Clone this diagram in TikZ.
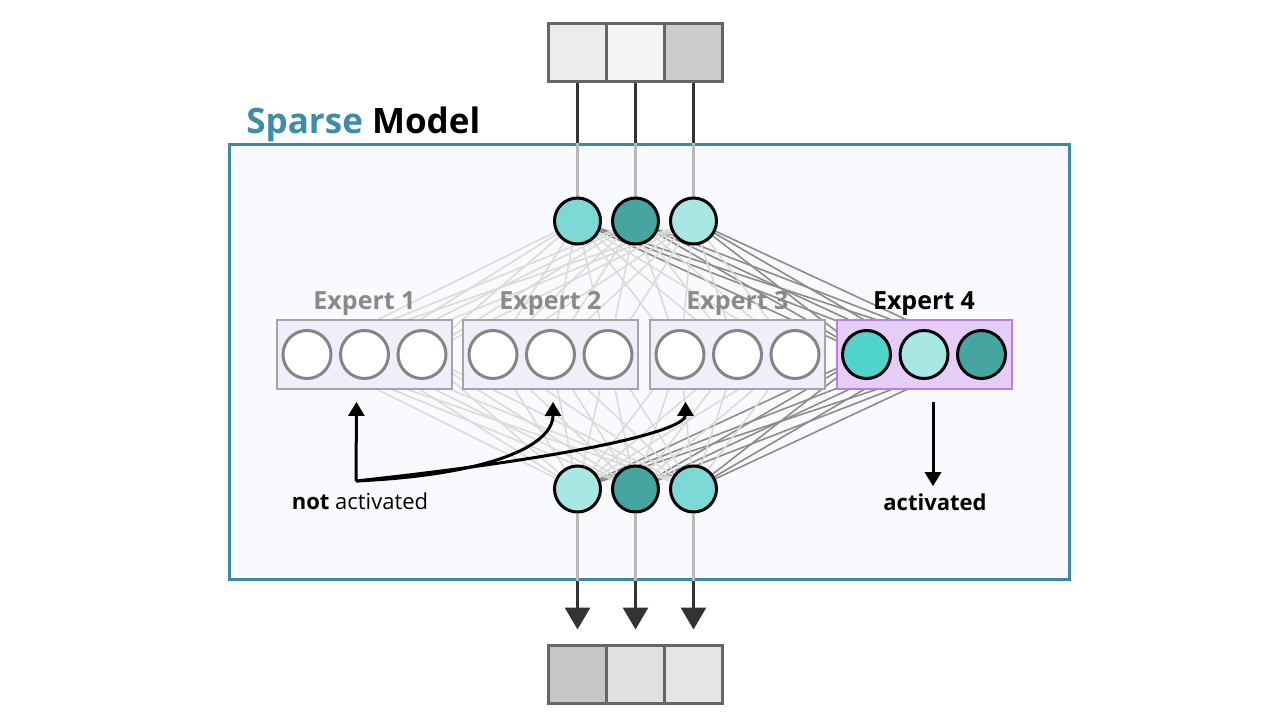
\documentclass[tikz,border=0pt]{standalone}
\usepackage{fontspec}
\setmainfont{Open Sans}
\usetikzlibrary{positioning,calc,arrows.meta}
\pgfdeclarelayer{back}
\pgfdeclarelayer{wires}
\pgfsetlayers{back,wires,main}
\definecolor{modelblue}{HTML}{3B89A3}
\definecolor{sparseblue}{HTML}{3C8CAB}
\definecolor{modelbg}{HTML}{F9FAFD}
\definecolor{cellgray}{HTML}{666666}
\definecolor{tealB}{HTML}{7DD9D5}
\definecolor{tealD}{HTML}{45A5A0}
\definecolor{tealL}{HTML}{A8E8E4}
\definecolor{tealS}{HTML}{4FD4CD}
\definecolor{lav}{HTML}{F1EDFB}
\definecolor{lavon}{HTML}{E4CEF8}
\definecolor{purpleline}{HTML}{B77DE9}
\definecolor{boxgray}{HTML}{A5A5A5}
\definecolor{idlegray}{HTML}{858585}
\definecolor{labelgray}{HTML}{8A8A8A}

\begin{document}
\begin{tikzpicture}[
  x=0.5pt,y=-0.5pt,
  cell/.style={draw=cellgray,line width=1.5pt,minimum size=29pt,inner sep=0pt,outer sep=0pt},
  unit/.style={circle,draw=black,line width=1.5pt,minimum size=23pt,inner sep=0pt},
  idle/.style={circle,draw=idlegray,line width=1.5pt,fill=white,minimum size=24pt,inner sep=0pt},
  expbox/.style={draw=boxgray,line width=0.9pt,fill=lav,minimum width=87.5pt,minimum height=34.5pt,inner sep=0pt},
  elabel/.style={font=\fontsize{12.5}{13}\selectfont\bfseries,text=labelgray,anchor=base},
  faint/.style={draw=black!14,line width=0.8pt},
  live/.style={draw=black!45,line width=0.8pt},
  pointer/.style={line width=1.5pt,-{Triangle[width=8pt,length=7pt]}},
  ]
  \useasboundingbox (0,0) rectangle (1280,728);

  \begin{pgfonlayer}{back}
    \node (model) [draw=modelblue,line width=1.5pt,fill=modelbg,minimum width=420pt,minimum height=217.5pt] at (649,361.5) {};
  \end{pgfonlayer}
  \node (title) [anchor=base west,inner sep=0pt,font=\fontsize{17.5}{19}\selectfont\bfseries] at (246,133) {\textcolor{sparseblue}{Sparse} Model};

  % input and output vectors
  \node (t1) [cell,fill=black!7.5] at (577.5,52.5) {};
  \node (t2) [cell,fill=black!4,right=0pt of t1] {};
  \node (t3) [cell,fill=black!20,right=0pt of t2] {};
  \node (b1) [cell,fill=black!22.5] at (577.5,674.5) {};
  \node (b2) [cell,fill=black!12,right=0pt of b1] {};
  \node (b3) [cell,fill=black!10,right=0pt of b2] {};

  % router layers
  \foreach \i/\c in {1/tealB,2/tealD,3/tealL}
    \node (u\i) [unit,fill=\c] at (t\i |- 0,221) {};
  \foreach \i/\c in {1/tealL,2/tealD,3/tealB}
    \node (d\i) [unit,fill=\c] at (b\i |- 0,489) {};

  % experts
  \foreach \e/\x in {1/364.5,2/550.5,3/737.5} {
    \node (e\e) [expbox] at (\x,354.5) {};
    \node [elabel] at ($(e\e.north)+(0,-10)$) {Expert \e};
    \foreach \j/\dx in {a/-57.5,b/0,c/57.5}
      \node (e\e\j) [idle] at ($(e\e)+(\dx,0)$) {};
  }
  \node (e4) [expbox,fill=lavon,draw=purpleline,line width=1pt] at (924,354.5) {};
  \node [elabel,text=black] at ($(e4.north)+(0,-10)$) {Expert 4};
  \foreach \j/\dx/\c in {a/-57.5/tealS,b/0/tealL,c/57.5/tealD}
    \node (e4\j) [unit,fill=\c,minimum size=24pt] at ($(e4)+(\dx,0)$) {};

  \begin{pgfonlayer}{wires}
    \foreach \i in {1,2,3} {
      \foreach \e in {1,2,3}
        \foreach \j in {a,b,c} {
          \draw [faint] (u\i) -- (e\e\j);
          \draw [faint] (e\e\j) -- (d\i);
        }
      \foreach \j in {a,b,c} {
        \draw [live] (u\i) -- (e4\j);
        \draw [live] (e4\j) -- (d\i);
      }
      \draw [line width=1.5pt,black!80] (t\i.south) -- (t\i |- model.north);
      \draw [line width=1.5pt,black!27] (t\i |- model.north) -- (u\i.north);
      \draw [line width=1.5pt,black!27] (d\i.south) -- (d\i |- model.south);
      \coordinate (o\i) at ($(b\i.north)+(0,-16)$);
      \draw [line width=1.5pt,black!80,-{Triangle[width=12.5pt,length=11pt]}] (d\i |- model.south) -- (o\i);
    }
  \end{pgfonlayer}

  % labels
  \node (nalabel) [anchor=base,font=\fontsize{11}{13}\selectfont] at (360,509) {\textbf{not} activated};
  \coordinate (na) at (356,481);
  \draw [pointer] (na) -- ([xshift=-4pt,yshift=-6pt]e1.south);
  \draw [pointer] (na) .. controls +(130,-6) and +(0,45) .. ([xshift=1.25pt,yshift=-6pt]e2.south);
  \draw [pointer] (na) .. controls +(230,-25) and +(0,28) .. ([xshift=-26pt,yshift=-6pt]e3.south);

  \node (alabel) [anchor=base,font=\fontsize{11}{13}\selectfont\bfseries] at (935,510) {activated};
  \draw [pointer] ([xshift=4.5pt,yshift=-6pt]e4.south) -- ([xshift=-1pt]alabel.north);

\end{tikzpicture}
\end{document}
